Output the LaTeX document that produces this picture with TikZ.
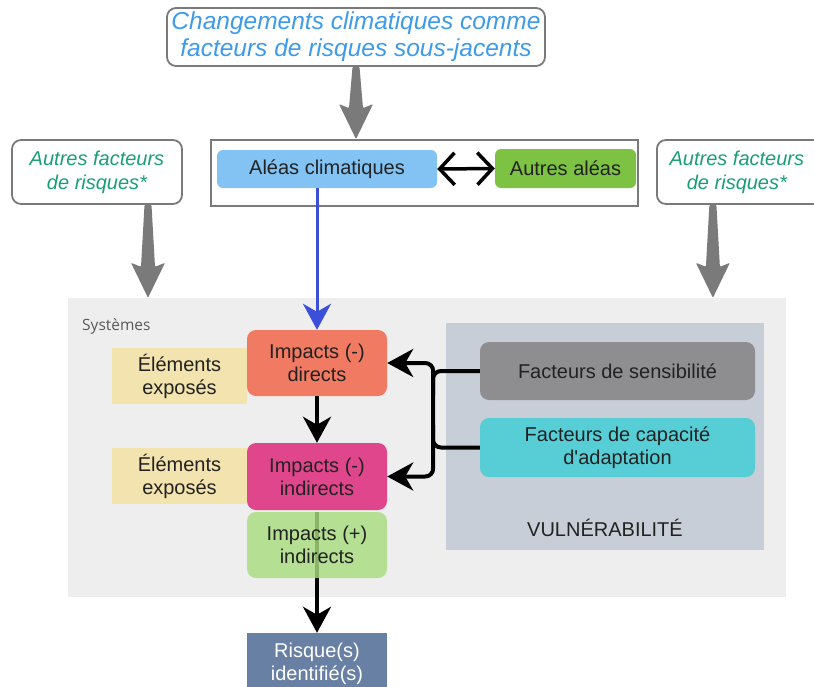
\documentclass[tikz,border=0pt]{standalone}
\usepackage{fontspec}
\setmainfont{Liberation Sans}[Ligatures=TeXOff]
\newfontfamily\sysfont{Open Sans}
\usetikzlibrary{arrows.meta,calc}

\definecolor{titleblue}{HTML}{3D9BE9}
\definecolor{riskgreen}{HTML}{1A9E78}
\definecolor{frame}{HTML}{7A7A7A}
\definecolor{aleablue}{HTML}{82C3F4}
\definecolor{otherhaz}{HTML}{7DC242}
\definecolor{sysbg}{HTML}{EEEEEE}
\definecolor{vulnbg}{HTML}{C8CED7}
\definecolor{sensgray}{HTML}{8E8E91}
\definecolor{capcyan}{HTML}{57CDD6}
\definecolor{impdir}{HTML}{F07B62}
\definecolor{impind}{HTML}{E0468B}
\definecolor{imppos}{HTML}{A9DC7E}
\definecolor{exposed}{HTML}{F3E3AE}
\definecolor{riskid}{HTML}{6880A3}
\definecolor{linkblue}{HTML}{3B4FD8}
\definecolor{fatgray}{HTML}{7A7A7A}
\definecolor{ink}{HTML}{222222}

% tapered grey arrow pointing down from #1 to #2 (same x)
\newcommand\fatdown[2]{%
  \fill[fatgray, rounded corners=1pt]
    ($(#1)+(-3.5,0)$) -- ($(#1)+(3.5,0)$) -- ($(#2)+(7,-31)$) -- ($(#2)+(17,-35)$)
    -- (#2) -- ($(#2)+(-17,-35)$) -- ($(#2)+(-7,-31)$) -- cycle;}

\begin{document}
\begin{tikzpicture}[x=1pt,y=-1pt,
  every node/.style={inner sep=0pt, align=center, text=ink,
    font=\fontsize{20}{23}\selectfont},
  note/.style={draw=frame, line width=1.8pt, rounded corners=9pt, fill=white,
    font=\fontsize{20}{24}\selectfont\itshape, text=riskgreen},
  box/.style={rounded corners=9pt},
  link/.style={draw=black, line width=4pt, -{Stealth[width=28pt,length=26pt,inset=8pt]}},
  twoway/.style={draw=black, line width=3.5pt,
    {Straight Barb[width=32pt,length=15pt]}-{Straight Barb[width=32pt,length=15pt]}},
  branch/.style={draw=black, line width=4pt, rounded corners=8pt},
]
\useasboundingbox (0,0) rectangle (814,686);

% background areas
\node[fill=sysbg, minimum width=718pt, minimum height=299pt] (sys) at (427,447.5) {};
\node[anchor=west, font=\sysfont\fontsize{15.5}{18}\selectfont, text=black!65] (syslabel) at (82,326) {Systèmes};
\node[fill=vulnbg, minimum width=318pt, minimum height=227pt] (vuln) at (605,436.5) {};
\node (vulnlabel) at (605,528) {VULNÉRABILITÉ};

% top drivers
\node[note, text=titleblue, font=\fontsize{24.5}{27}\selectfont\itshape,
  minimum width=378pt, minimum height=58pt] (title) at (356,37)
  {Changements climatiques comme\\facteurs de risques sous-jacents};
\node[draw=frame, line width=1.8pt, fill=white, minimum width=427pt, minimum height=66pt] (haz) at (424.5,173) {};
\node[box, rounded corners=6pt, fill=aleablue, minimum width=220pt, minimum height=38pt] (aleas) at (327,169) {Aléas climatiques};
\node[box, rounded corners=6pt, fill=otherhaz, minimum width=141pt, minimum height=39pt] (other) at (565.5,168.5) {Autres aléas};
\node[note, minimum width=170pt, minimum height=64pt] (lrisk) at (97,172) {Autres facteurs\\de risques*};
\node[note, minimum width=170pt, minimum height=64pt, anchor=west] (rrisk) at (656,172) {\hspace*{-10pt}Autres facteurs\\\hspace*{-10pt}de risques*};

% vulnerability factors
\node[box, fill=sensgray, minimum width=275pt, minimum height=58pt] (sens) at (617.5,371) {Facteurs de sensibilité};
\node[box, fill=capcyan, minimum width=275pt, minimum height=59pt] (cap) at (617.5,447.5) {Facteurs de capacité\\d'adaptation};

% exposed elements and impacts
\node[fill=exposed, minimum width=135pt, minimum height=56pt] (exp1) at (179.5,376) {Éléments\\exposés};
\node[fill=exposed, minimum width=135pt, minimum height=56pt] (exp2) at (179.5,476) {Éléments\\exposés};
\node[box, fill=impdir, minimum width=140pt, minimum height=66pt] (impd) at (317,363) {Impacts (-)\\directs};
\node[box, fill=impind, minimum width=140pt, minimum height=67pt] (impi) at (317,476.5) {Impacts (-)\\indirects};
\node[fill=riskid, minimum width=140pt, minimum height=62pt, text=white] (risk) at (317,664) {Risque(s)\\identifié(s)};

% line to the identified risk, seen through the positive impacts box
\coordinate (pstart) at (317,512);
\draw[link] (pstart) -- (risk.north);
\node[box, fill=imppos, fill opacity=0.82, text opacity=1, minimum width=140pt, minimum height=66pt] (impp) at (317,545) {Impacts (+)\\indirects};

% grey driver arrows
\coordinate (ta) at (title.south);
\coordinate (tb) at (title.south |- haz.north);
\fatdown{ta}{tb}
\coordinate (la) at ([xshift=51pt]lrisk.south);
\coordinate (lb) at (la |- sys.north);
\fatdown{la}{lb}
\coordinate (ra) at ([xshift=-29pt]rrisk.south);
\coordinate (rb) at (ra |- sys.north);
\fatdown{ra}{rb}

% connectors
\draw[twoway] (aleas.east) -- (other.west);
\draw[draw=linkblue, line width=3pt, -{Stealth[width=28pt,length=26pt,inset=8pt]}]
  (aleas.south -| impd.north) -- (impd.north);
\draw[link] (impd.south) -- (impi.north);

% vulnerability feeding both negative impacts
\coordinate (jtop) at (433,395);
\coordinate (jbot) at (433,425);
\draw[branch, {Stealth[width=28pt,length=26pt,inset=8pt]}-{Stealth[width=28pt,length=26pt,inset=8pt]}]
  (impd.east) -- ++(46,0) |- (impi.east);
\draw[branch] (sens.west) -| (jtop);
\draw[branch] (cap.west) -| (jbot);
\end{tikzpicture}
\end{document}
